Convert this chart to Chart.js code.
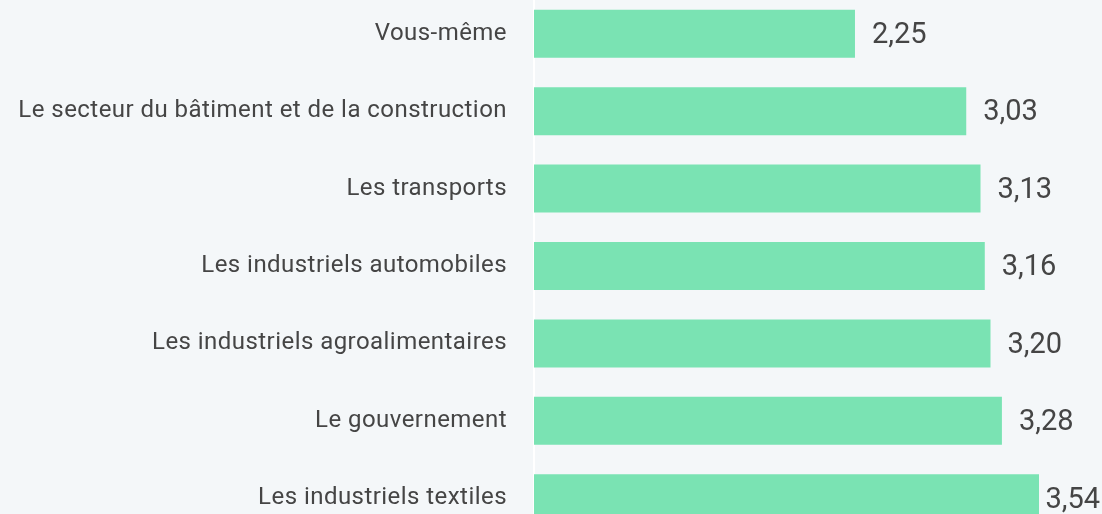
<!DOCTYPE html>
<html>
<head>
<meta charset="utf-8">
<script src="https://cdn.jsdelivr.net/npm/chart.js@4"></script>
<style>
  html, body { margin: 0; padding: 0; background: #f4f7f9; overflow: hidden; width: 1102px; height: 514px; }
  #wrap { position: absolute; left: 0; top: -5px; width: 1102px; height: 542px; }
</style>
</head>
<body>
<div id="wrap"><canvas id="c"></canvas></div>
<script>
const categories = [
  "Vous-même",
  "Le secteur du bâtiment et de la construction",
  "Les transports",
  "Les industriels automobiles",
  "Les industriels agroalimentaires",
  "Le gouvernement",
  "Les industriels textiles"
];
const values = [2.25, 3.03, 3.13, 3.16, 3.20, 3.28, 3.54];
const valueLabels = ["2,25", "3,03", "3,13", "3,16", "3,20", "3,28", "3,54"];

const spacingPlugin = {
  id: 'spacing',
  beforeDraw(chart) {
    if ('letterSpacing' in chart.ctx) chart.ctx.letterSpacing = '0.45px';
  }
};

const valuePlugin = {
  id: 'valueLabels',
  afterDatasetsDraw(chart) {
    const ctx = chart.ctx;
    const meta = chart.getDatasetMeta(0);
    ctx.save();
    if ('letterSpacing' in ctx) ctx.letterSpacing = '0px';
    ctx.font = '29px Roboto';
    ctx.fillStyle = '#454545';
    ctx.textBaseline = 'middle';
    ctx.textAlign = 'left';
    meta.data.forEach((bar, i) => {
      const t = valueLabels[i];
      const w = ctx.measureText(t).width;
      let x = bar.x + 17;
      if (x + w > chart.width - 2) x = chart.width - 2 - w;
      ctx.fillText(t, x, bar.y + 2);
    });
    ctx.restore();
  }
};

new Chart(document.getElementById('c'), {
  type: 'bar',
  data: {
    labels: categories,
    datasets: [{
      data: values,
      backgroundColor: '#7ae3b3',
      borderWidth: 0,
      barPercentage: 0.62,
      categoryPercentage: 1.0
    }]
  },
  options: {
    indexAxis: 'y',
    responsive: true,
    maintainAspectRatio: false,
    animation: false,
    layout: { padding: { left: 0, right: 63, top: 0, bottom: 0 } },
    plugins: { legend: { display: false }, tooltip: { enabled: false } },
    scales: {
      x: {
        display: false,
        min: 0,
        max: Math.max(...values)
      },
      y: {
        grid: { display: false, drawTicks: false },
        border: { display: true, color: '#ffffff', width: 2 },
        ticks: {
          color: '#454545',
          font: { family: 'Roboto', size: 24 },
          padding: 27
        },
        afterFit(scale) {
          scale.width = 534;
          scale.paddingTop = 0;
          scale.paddingBottom = 0;
        }
      }
    }
  },
  plugins: [spacingPlugin, valuePlugin]
});
</script>
</body>
</html>
